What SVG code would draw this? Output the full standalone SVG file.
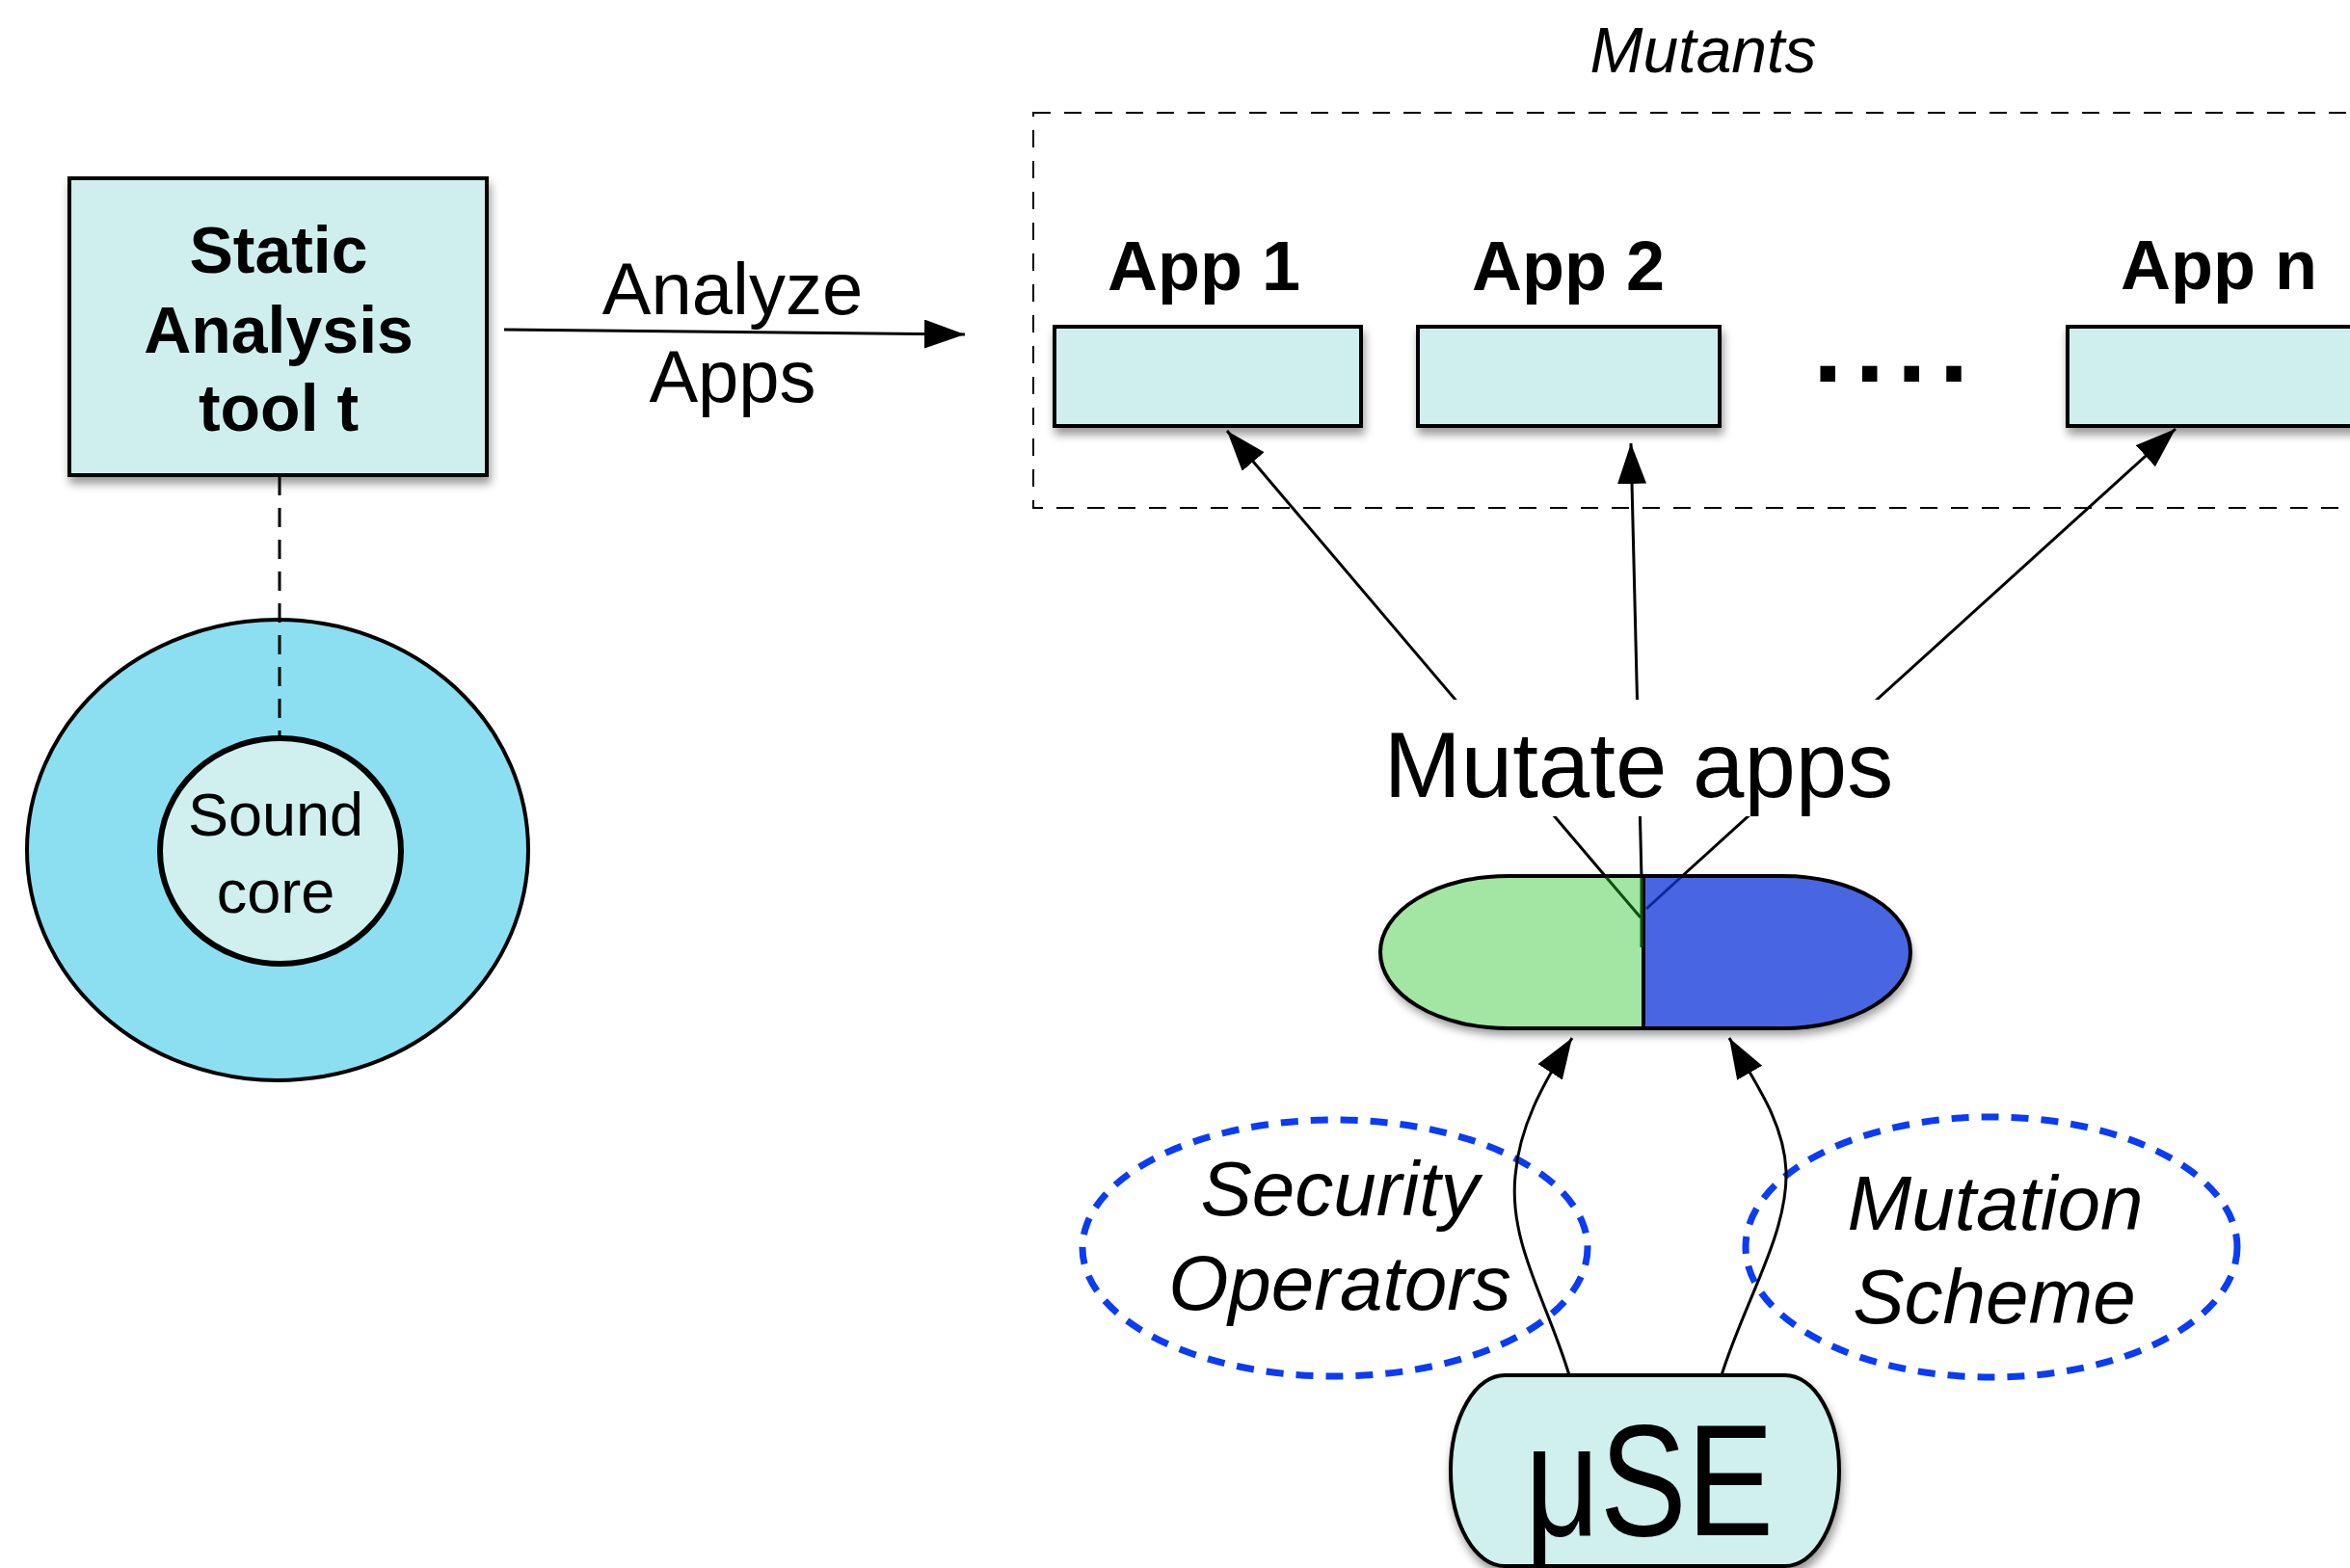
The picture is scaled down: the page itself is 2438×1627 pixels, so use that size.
<svg xmlns="http://www.w3.org/2000/svg" width="2438" height="1627" viewBox="0 0 2438 1627">
  <style>
    .sans { font-family: "Liberation Sans", Arial, Helvetica, sans-serif; fill: #000; }
    .bold { font-weight: bold; }
    .ital { font-style: italic; }
    .mid { text-anchor: middle; }
    .box { fill: #CFEFEE; stroke: #000; stroke-width: 4; }
    .edge { fill: none; stroke: #000; stroke-width: 3; }
    .dash { fill: none; stroke: #000; stroke-width: 2; stroke-dasharray: 18 14; }
    .dotted { fill: none; stroke: #0A3CF5; stroke-width: 7; stroke-dasharray: 18 13; }
  </style>
  <defs>
    <filter id="shadow" x="-10%" y="-10%" width="125%" height="140%">
      <feDropShadow dx="2" dy="7" stdDeviation="5" flood-color="#000" flood-opacity="0.4"/>
    </filter>
    <marker id="arrow" markerUnits="userSpaceOnUse" markerWidth="44" markerHeight="32" refX="42" refY="15" orient="auto">
      <path d="M0,0 L42,15 L0,30 z" fill="#000"/>
    </marker>
    <clipPath id="pill-left"><rect x="1400" y="880" width="305" height="220"/></clipPath>
    <clipPath id="pill-right"><rect x="1705" y="880" width="320" height="220"/></clipPath>
  </defs>

  <rect width="2438" height="1627" fill="#fff"/>

  <!-- static analysis tool -->
  <g id="static-tool">
    <rect class="box" x="72" y="185" width="433" height="308" filter="url(#shadow)"/>
    <text class="sans bold mid" x="289" y="283" font-size="68">Static</text>
    <text class="sans bold mid" x="289" y="366" font-size="68">Analysis</text>
    <text class="sans bold mid" x="289" y="447" font-size="68">tool t</text>
  </g>

  <!-- analysed program space with its sound core -->
  <g id="analysis-scope">
    <ellipse cx="288" cy="882" rx="260" ry="239" fill="#8CDFF0" stroke="#000" stroke-width="4"/>
  </g>
  <g id="sound-core">
    <ellipse cx="291" cy="883" rx="125" ry="117" fill="#CFF0EE" stroke="#000" stroke-width="6"/>
    <text class="sans mid" x="286" y="867" font-size="63">Sound</text>
    <text class="sans mid" x="286" y="947" font-size="63">core</text>
  </g>

  <!-- mutants container -->
  <g id="mutants">
    <rect class="dash" x="1072" y="117" width="1400" height="410"/>
    <text class="sans ital mid" x="1767" y="75" font-size="66">Mutants</text>
  </g>

  <g id="app-1">
    <rect class="box" x="1094" y="339" width="318" height="103" filter="url(#shadow)"/>
    <text class="sans bold mid" x="1249" y="301" font-size="72">App 1</text>
  </g>
  <g id="app-2">
    <rect class="box" x="1471" y="339" width="313" height="103" filter="url(#shadow)"/>
    <text class="sans bold mid" x="1627" y="301" font-size="72">App 2</text>
  </g>
  <g id="ellipsis">
    <text class="sans bold" x="1881" y="396" font-size="110" letter-spacing="13">....</text>
  </g>
  <g id="app-n">
    <rect class="box" x="2145" y="339" width="320" height="103" filter="url(#shadow)"/>
    <text class="sans bold mid" x="2302" y="300" font-size="72">App n</text>
  </g>

  <!-- mutation pill -->
  <g id="mutation-pill">
    <g filter="url(#shadow)">
      <rect x="1432" y="909" width="550" height="158" rx="132" ry="79" fill="#A3E6A3" clip-path="url(#pill-left)"/>
      <rect x="1432" y="909" width="550" height="158" rx="132" ry="79" fill="#4866E2" clip-path="url(#pill-right)"/>
    </g>
    <rect x="1432" y="909" width="550" height="158" rx="132" ry="79" fill="none" stroke="#000" stroke-width="4"/>
    <line x1="1705" y1="909" x2="1705" y2="1067" stroke="#000" stroke-width="4"/>
  </g>

  <!-- operator sources -->
  <g id="security-operators">
    <ellipse class="dotted" cx="1385" cy="1295" rx="262" ry="133"/>
    <text class="sans ital mid" x="1390" y="1261" font-size="80">Security</text>
    <text class="sans ital mid" x="1390" y="1359" font-size="80">Operators</text>
  </g>
  <g id="mutation-scheme">
    <ellipse class="dotted" cx="2066" cy="1294" rx="255" ry="135"/>
    <text class="sans ital mid" x="2070" y="1276" font-size="80">Mutation</text>
    <text class="sans ital mid" x="2069" y="1373" font-size="80">Scheme</text>
  </g>

  <!-- muSE tool -->
  <g id="muse">
    <rect x="1505" y="1427" width="403" height="198" rx="56" ry="99" fill="#D0F0EE" stroke="#000" stroke-width="4" filter="url(#shadow)"/>
    <text class="sans mid" x="1711" y="1593" font-size="166" textLength="258" lengthAdjust="spacingAndGlyphs">μSE</text>
  </g>

  <!-- connectors -->
  <g id="connectors">
    <path class="edge" d="M523,342 L1001,347" marker-end="url(#arrow)"/>
    <line x1="290" y1="494" x2="290" y2="766" stroke="#000" stroke-width="3" stroke-dasharray="20 13"/>

    <!-- pill to mutants -->
    <path class="edge" d="M1667,911 L1273,447" marker-end="url(#arrow)"/>
    <path class="edge" d="M1703,911 L1692,460" marker-end="url(#arrow)"/>
    <path class="edge" d="M1743,911 L2257,445" marker-end="url(#arrow)"/>
    <path d="M1702,952 L1667,911" stroke="#0E4F14" stroke-width="3"/>
    <path d="M1703,983 L1703,911" stroke="#0E4F14" stroke-width="3"/>
    <path d="M1708,943 L1743,911" stroke="#0A2A9A" stroke-width="3"/>

    <!-- muSE feeding the pill -->
    <path class="edge" d="M1628,1427 C1605,1350 1565,1290 1572,1220 C1576,1170 1600,1125 1631,1077" marker-end="url(#arrow)"/>
    <path class="edge" d="M1786,1427 C1810,1350 1855,1280 1853,1215 C1851,1165 1822,1125 1794,1077" marker-end="url(#arrow)"/>

    <g id="mutate-label">
      <rect x="1420" y="726" width="565" height="121" fill="#fff"/>
      <text class="sans mid" x="1700" y="827" font-size="96">Mutate apps</text>
    </g>
  </g>

  <!-- analyze label -->
  <g id="analyze-label">
    <text class="sans mid" x="760" y="326" font-size="76">Analyze</text>
    <text class="sans mid" x="760" y="417" font-size="76">Apps</text>
  </g>
</svg>
